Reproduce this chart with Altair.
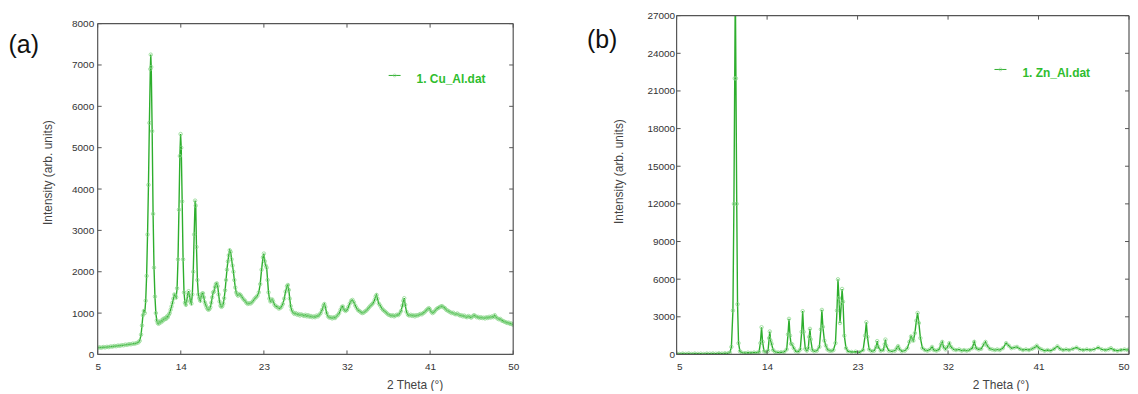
import altair as alt
import pandas as pd

# ---------------- data: panel (a) Cu_Al ----------------
tt_a = [
    5.0, 5.2, 5.4, 5.6, 5.8, 6.0, 6.2, 6.4, 6.6, 6.8,
    7.0, 7.2, 7.4, 7.6, 7.8, 8.0, 8.2, 8.4, 8.6, 8.8,
    9.0, 9.2, 9.4, 9.55, 9.7, 9.8, 9.9, 10.0, 10.1, 10.2,
    10.3, 10.4, 10.5, 10.6, 10.7, 10.75, 10.8, 10.9, 11.0, 11.1,
    11.2, 11.3, 11.4, 11.5, 11.6, 11.7, 11.8, 11.9, 12.0, 12.1,
    12.2, 12.3, 12.4, 12.5, 12.6, 12.7, 12.8, 12.9, 13.0, 13.1,
    13.2, 13.3, 13.4, 13.5, 13.6, 13.7, 13.8, 13.9, 13.98, 14.05,
    14.15, 14.25, 14.35, 14.45, 14.55, 14.65, 14.75, 14.85, 14.95, 15.05,
    15.15, 15.25, 15.35, 15.45, 15.55, 15.62, 15.7, 15.8, 15.9, 16.0,
    16.1, 16.2, 16.3, 16.4, 16.5, 16.6, 16.7, 16.8, 16.9, 17.0,
    17.1, 17.2, 17.3, 17.4, 17.5, 17.6, 17.7, 17.8, 17.9, 18.0,
    18.1, 18.2, 18.3, 18.4, 18.5, 18.6, 18.7, 18.8, 18.9, 19.0,
    19.1, 19.2, 19.3, 19.4, 19.5, 19.6, 19.7, 19.8, 19.9, 20.0,
    20.1, 20.2, 20.35, 20.5, 20.65, 20.8, 20.95, 21.1, 21.25, 21.4,
    21.55, 21.7, 21.85, 22.0, 22.15, 22.3, 22.45, 22.6, 22.75, 22.9,
    23.0, 23.1, 23.2, 23.3, 23.4, 23.5, 23.6, 23.7, 23.8, 23.9,
    24.0, 24.15, 24.3, 24.45, 24.6, 24.75, 24.9, 25.05, 25.2, 25.35,
    25.5, 25.6, 25.7, 25.8, 25.9, 26.0, 26.15, 26.3, 26.45, 26.6,
    26.75, 26.9, 27.05, 27.2, 27.35, 27.5, 27.65, 27.8, 27.95, 28.1,
    28.25, 28.4, 28.55, 28.7, 28.85, 29.0, 29.15, 29.3, 29.45, 29.55,
    29.65, 29.8, 29.95, 30.1, 30.25, 30.4, 30.55, 30.7, 30.85, 31.0,
    31.15, 31.3, 31.45, 31.55, 31.7, 31.85, 32.0, 32.15, 32.3, 32.45,
    32.6, 32.75, 32.9, 33.05, 33.2, 33.35, 33.5, 33.65, 33.8, 33.95,
    34.1, 34.25, 34.4, 34.55, 34.7, 34.85, 35.0, 35.1, 35.2, 35.3,
    35.45, 35.6, 35.75, 35.9, 36.05, 36.2, 36.35, 36.5, 36.65, 36.8,
    36.95, 37.1, 37.25, 37.4, 37.55, 37.7, 37.85, 38.0, 38.1, 38.2,
    38.3, 38.45, 38.6, 38.75, 38.9, 39.05, 39.2, 39.35, 39.5, 39.65,
    39.8, 39.95, 40.1, 40.25, 40.4, 40.55, 40.7, 40.85, 40.95, 41.1,
    41.25, 41.4, 41.55, 41.7, 41.85, 42.0, 42.15, 42.3, 42.45, 42.6,
    42.75, 42.9, 43.05, 43.2, 43.35, 43.5, 43.65, 43.8, 43.95, 44.1,
    44.25, 44.4, 44.55, 44.7, 44.85, 45.0, 45.15, 45.3, 45.45, 45.6,
    45.75, 45.9, 46.05, 46.2, 46.35, 46.5, 46.65, 46.8, 46.95, 47.1,
    47.25, 47.4, 47.55, 47.7, 47.85, 48.0, 48.15, 48.3, 48.45, 48.6,
    48.75, 48.9, 49.05, 49.2, 49.35, 49.5, 49.65, 49.8, 49.95, 50.0,
]
int_a = [
    150, 175, 160, 180, 170, 185, 178, 195, 188, 205,
    198, 215, 208, 225, 220, 238, 232, 250, 245, 262,
    258, 275, 290, 330, 480, 700, 950, 1050, 1000, 1300,
    1900, 2900, 4100, 5600, 6900, 7250, 6950, 5400, 3400, 2100,
    1400, 1000, 820, 760, 740, 790, 770, 820, 800, 860,
    840, 880, 860, 920, 900, 960, 1000, 1080, 1160, 1250,
    1350, 1450, 1420, 1380, 1600, 2300, 3500, 4800, 5330, 5000,
    3700, 2300, 1500, 1250, 1200, 1300, 1450, 1530, 1420, 1270,
    1230, 1450, 2000, 2900, 3720, 3600, 2600, 1800, 1450, 1360,
    1300, 1400, 1470, 1480, 1380, 1260, 1200, 1140, 1100, 1080,
    1100, 1140, 1250, 1380, 1500, 1520, 1630, 1700, 1720, 1650,
    1450, 1280, 1180, 1150, 1170, 1230, 1360, 1550, 1800, 2050,
    2250, 2400, 2520, 2480, 2300, 2150, 2000, 1800, 1620, 1500,
    1450, 1420, 1460, 1430, 1380, 1330, 1300, 1250, 1220, 1240,
    1230, 1260, 1300, 1350, 1380, 1420, 1500, 1700, 2050, 2350,
    2440, 2250, 2150, 2100, 1800, 1500, 1350, 1280, 1300, 1330,
    1280, 1200, 1160, 1150, 1110, 1120, 1150, 1220, 1350, 1520,
    1650, 1680, 1560, 1350, 1170, 1080, 1020, 980, 1000, 960,
    980, 940, 970, 950, 930, 960, 920, 950, 910, 930,
    900, 920, 900, 940, 920, 960, 1000, 1080, 1180, 1220,
    1150, 1000, 920, 890, 900, 870, 900, 880, 920, 950,
    1000, 1080, 1150, 1160, 1080, 1050, 1080, 1150, 1230, 1300,
    1320, 1260, 1180, 1120, 1070, 1050, 1020, 1000, 1010, 1040,
    1060, 1100, 1140, 1180, 1210, 1250, 1320, 1400, 1440, 1350,
    1230, 1180, 1120, 1080, 1050, 1020, 990, 960, 950, 930,
    950, 920, 940, 960, 950, 990, 1050, 1180, 1300, 1360,
    1200, 1030, 960, 940, 960, 930, 950, 920, 950, 940,
    960, 980, 970, 1000, 1020, 1060, 1090, 1120, 1100, 1040,
    1000, 1020, 1060, 1100, 1120, 1140, 1160, 1170, 1140, 1120,
    1080, 1060, 1040, 1020, 1000, 1010, 980, 970, 990, 960,
    940, 950, 920, 940, 910, 900, 930, 910, 890, 920,
    950, 930, 900, 910, 880, 900, 880, 890, 870, 900,
    880, 910, 890, 920, 900, 950, 900, 870, 850, 860,
    820, 810, 790, 780, 760, 770, 740, 750, 720, 730,
]

# ---------------- data: panel (b) Zn_Al ----------------
tt_b = [
    5.0, 5.3, 5.6, 5.9, 6.2, 6.5, 6.8, 7.1, 7.4, 7.7,
    8.0, 8.3, 8.6, 8.9, 9.2, 9.5, 9.8, 10.1, 10.3, 10.45,
    10.6, 10.7, 10.78, 10.84, 10.9, 10.98, 11.06, 11.16, 11.3, 11.5,
    11.8, 12.1, 12.4, 12.7, 13.0, 13.2, 13.33, 13.45, 13.55, 13.7,
    13.9, 14.1, 14.2, 14.27, 14.35, 14.45, 14.6, 14.8, 15.1, 15.4,
    15.7, 15.95, 16.08, 16.18, 16.28, 16.38, 16.5, 16.65, 16.85, 17.1,
    17.3, 17.44, 17.54, 17.64, 17.8, 17.95, 18.1, 18.19, 18.26, 18.34,
    18.5, 18.7, 18.95, 19.2, 19.35, 19.45, 19.55, 19.7, 19.85, 20.0,
    20.2, 20.4, 20.6, 20.8, 20.95, 21.05, 21.15, 21.25, 21.38, 21.46,
    21.55, 21.68, 21.85, 22.05, 22.4, 22.8, 23.2, 23.55, 23.75, 23.87,
    23.98, 24.15, 24.4, 24.65, 24.85, 24.95, 25.05, 25.3, 25.55, 25.7,
    25.77, 25.85, 26.1, 26.4, 26.7, 26.9, 27.03, 27.15, 27.4, 27.7,
    27.95, 28.15, 28.32, 28.45, 28.55, 28.7, 28.85, 28.97, 29.1, 29.25,
    29.45, 29.7, 29.95, 30.2, 30.41, 30.6, 30.85, 31.1, 31.3, 31.42,
    31.55, 31.75, 31.95, 32.13, 32.3, 32.55, 32.8, 33.1, 33.35, 33.6,
    33.85, 34.1, 34.4, 34.6, 34.8, 35.05, 35.3, 35.55, 35.73, 35.9,
    36.15, 36.4, 36.65, 36.9, 37.15, 37.45, 37.78, 38.05, 38.3, 38.6,
    38.86, 39.15, 39.45, 39.75, 40.05, 40.35, 40.6, 40.83, 41.05, 41.3,
    41.6, 41.9, 42.2, 42.55, 42.88, 43.15, 43.45, 43.75, 44.05, 44.4,
    44.78, 45.1, 45.45, 45.8, 46.15, 46.5, 46.94, 47.3, 47.65, 47.95,
    48.2, 48.5, 48.85, 49.2, 49.55, 49.85, 50.0,
]
int_b = [
    60, 40, 70, 50, 80, 40, 70, 50, 60, 40,
    70, 60, 80, 60, 90, 70, 100, 90, 150, 600,
    3500, 12000, 22000, 29500, 22000, 12000, 4000, 900, 250, 130,
    110, 140, 120, 150, 130, 200, 900, 2170, 1000, 250,
    180, 300, 1300, 1830, 1100, 850, 350, 200, 160, 180,
    200, 400, 1600, 2840, 1500, 850, 800, 500, 250, 220,
    400, 1800, 3450, 1800, 450, 300, 500, 1400, 2040, 1200,
    350, 250, 300, 600, 2000, 3550, 2200, 1100, 700, 400,
    300, 280, 350, 900, 3500, 5990, 4500, 2500, 4000, 5220,
    4200, 1500, 500, 250, 200, 220, 180, 350, 1500, 2570,
    1400, 400, 250, 300, 600, 1060, 600, 300, 350, 800,
    1190, 700, 300, 250, 300, 500, 660, 450, 250, 300,
    500, 1000, 1430, 1200, 1100, 1700, 2700, 3310, 2500, 1300,
    500, 350, 300, 400, 600, 350, 300, 400, 800, 1000,
    600, 400, 600, 900, 600, 400, 350, 400, 300, 350,
    300, 350, 500, 1000, 500, 400, 450, 800, 1000, 700,
    450, 400, 350, 400, 350, 500, 900, 700, 500, 550,
    600, 450, 350, 400, 350, 450, 550, 700, 500, 400,
    300, 350, 300, 450, 650, 450, 350, 400, 350, 450,
    550, 400, 350, 400, 350, 400, 550, 400, 350, 400,
    500, 350, 300, 350, 400, 350, 400,
]

x_ticks = [5, 14, 23, 32, 41, 50]
y_ticks_a = [0, 1000, 2000, 3000, 4000, 5000, 6000, 7000, 8000]
y_ticks_b = [0, 3000, 6000, 9000, 12000, 15000, 18000, 21000, 24000, 27000]

assert len(tt_a) == len(int_a), (len(tt_a), len(int_a))
assert len(tt_b) == len(int_b), (len(tt_b), len(int_b))

LINE = "#2dae2d"
MARK = "#86d686"
LEG = "#2ebd2e"
FONT = "Liberation Sans"
FRAME = "#555555"

H = 340  # common panel height; panel (a)'s frame starts 'top' px lower


def panel(tt, inten, ymax, yticks, W, top, letter, legend_txt,
          leg_x, leg_y, letter_x, letter_y, ytitle_x, ytitle_y,
          xtitle_x, ylabpad, spacer_y, xflush):
    df = pd.DataFrame({"tt": tt, "I": inten})
    # the frame top (ymax) sits 'top' px below the panel's upper edge
    dom_top = ymax * H / (H - top)
    xs = alt.Scale(domain=[5, 50], nice=False, zero=False)
    ys = alt.Scale(domain=[0, dom_top], nice=False, zero=True)
    xaxis = alt.Axis(
        values=x_ticks, ticks=False, domain=False, grid=False, format="d",
        labelFont=FONT, labelFontSize=10, labelColor="#333333", labelPadding=7,
        labelOverlap=False, labelBound=False, labelFlush=xflush,
        title="2 Theta (°)", titleFont=FONT, titleFontSize=12,
        titleFontWeight="normal", titleColor="#444444",
        titleX=xtitle_x, titleY=30, titleAlign="center", titleBaseline="middle")
    yaxis = alt.Axis(
        values=yticks, ticks=False, domain=False, grid=False, format="d",
        labelFont=FONT, labelFontSize=10, labelColor="#333333",
        labelPadding=ylabpad, labelOverlap=False, labelBound=False,
        labelFlush=False, labelSeparation=0,
        title="Intensity (arb. units)", titleFont=FONT, titleFontSize=12,
        titleFontWeight="normal", titleColor="#444444",
        titleX=ytitle_x, titleY=ytitle_y, titleAngle=-90,
        titleAlign="center", titleBaseline="middle")
    xenc = alt.X("tt:Q", scale=xs, axis=xaxis)
    yenc = alt.Y("I:Q", scale=ys, axis=yaxis)

    line = alt.Chart(df).mark_line(clip=True, color=LINE, strokeWidth=1.4).encode(
        x=xenc, y=yenc)
    pts = alt.Chart(df).mark_point(
        clip=True, filled=False, size=12, color=MARK, strokeWidth=0.8,
        opacity=0.9).encode(x=xenc, y=yenc)

    yt = pd.DataFrame({"I": yticks})
    xt = pd.DataFrame({"tt": x_ticks})
    tick_style = dict(color=FRAME, strokeWidth=1)
    lt = alt.Chart(yt).mark_rule(**tick_style).encode(
        y=yenc, x=alt.value(0), x2=alt.value(4))
    rt = alt.Chart(yt).mark_rule(**tick_style).encode(
        y=yenc, x=alt.value(W - 4), x2=alt.value(W))
    bt = alt.Chart(xt).mark_rule(**tick_style).encode(
        x=xenc, y=alt.value(H - 4), y2=alt.value(H))
    tt_ = alt.Chart(xt).mark_rule(**tick_style).encode(
        x=xenc, y=alt.value(top), y2=alt.value(top + 4))

    one = pd.DataFrame({"k": [0]})
    frame_style = dict(color=FRAME, strokeWidth=1.2)
    f_top = alt.Chart(one).mark_rule(**frame_style).encode(
        x=alt.value(0), x2=alt.value(W), y=alt.value(top))
    f_bot = alt.Chart(one).mark_rule(**frame_style).encode(
        x=alt.value(0), x2=alt.value(W), y=alt.value(H))
    f_left = alt.Chart(one).mark_rule(**frame_style).encode(
        x=alt.value(0), y=alt.value(top), y2=alt.value(H))
    f_right = alt.Chart(one).mark_rule(**frame_style).encode(
        x=alt.value(W), y=alt.value(top), y2=alt.value(H))

    leg_line = alt.Chart(one).mark_rule(color=LINE, strokeWidth=1).encode(
        x=alt.value(leg_x), x2=alt.value(leg_x + 12), y=alt.value(leg_y))
    leg_pt = alt.Chart(one).mark_point(filled=False, size=9, color=MARK,
                                       strokeWidth=0.8).encode(
        x=alt.value(leg_x + 6), y=alt.value(leg_y))
    leg_txt = alt.Chart(one).mark_text(
        align="left", baseline="middle", font=FONT, fontSize=12,
        fontWeight="bold", color=LEG).encode(
        x=alt.value(leg_x + 28), y=alt.value(leg_y + 4), text=alt.value(legend_txt))
    letter_txt = alt.Chart(one).mark_text(
        align="left", baseline="middle", font=FONT, fontSize=25,
        color="#111111").encode(
        x=alt.value(letter_x), y=alt.value(letter_y), text=alt.value(letter))
    spacer = alt.Chart(one).mark_rule(color="white", strokeWidth=1, opacity=0.01).encode(
        x=alt.value(0), x2=alt.value(2), y=alt.value(spacer_y))

    return alt.layer(line, spacer, pts, lt, rt, bt, tt_, f_top, f_bot, f_left,
                     f_right, leg_line, leg_pt, leg_txt, letter_txt).properties(
        width=W, height=H, view=alt.ViewBackground(stroke=None))


pa = panel(tt_a, int_a, 8000, y_ticks_a, 417, 8, "(a)", "1. Cu_Al.dat",
           leg_x=292, leg_y=60, letter_x=-89.5, letter_y=29,
           ytitle_x=-50, ytitle_y=157, xtitle_x=318, ylabpad=4, spacer_y=-6,
           xflush=False)
pb = panel(tt_b, int_b, 27000, y_ticks_b, 454, 0, "(b)", "1. Zn_Al.dat",
           leg_x=319, leg_y=54, letter_x=-90, letter_y=24,
           ytitle_x=-58, ytitle_y=156, xtitle_x=325, ylabpad=2, spacer_y=-6,
           xflush=True)

chart = alt.hconcat(pa, pb, spacing=68).properties(padding=0).configure_view(
    stroke=None
).configure(background="white")

chart.save("out.html", embed_options={"renderer": "svg", "actions": False})
